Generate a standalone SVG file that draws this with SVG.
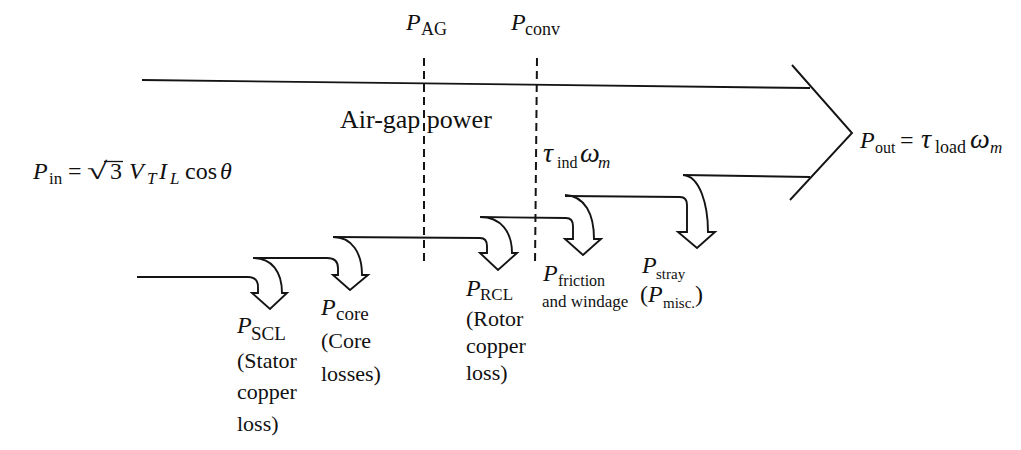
<svg xmlns="http://www.w3.org/2000/svg" width="1021" height="450" viewBox="0 0 1021 450" font-family="Liberation Serif, Times New Roman, DejaVu Serif, serif">
<style>
  .ln{fill:none;stroke:#141414;stroke-width:1.9;stroke-linejoin:miter;stroke-linecap:butt}
  .ds{fill:none;stroke:#141414;stroke-width:2;stroke-dasharray:8 5}
  text{font-family:"Liberation Serif","Times New Roman","DejaVu Serif",serif;fill:#111}
  .m{font-size:24px}
  .i{font-style:italic}
  .lb{font-size:22px}
  .g{font-size:28px;font-style:italic}
</style>
<rect width="1021" height="450" fill="#ffffff"/>
<g id="connectors">
  <g id="main-band">
    <path class="ln" d="M142,80 L810,88"/>
    <path class="ln" d="M792,65 L852,133 L790,200"/>
    <path class="ln" d="M683,175 L810,177"/>
  </g>
  <g id="flow-scl">
    <path class="ln" d="M137,277 L248,277 Q258,277 258,287 L258,293 L252,293 L270,309 L287,293 L282,293 C282,272 272,258 253,258"/>
  </g>
  <g id="flow-core">
    <path class="ln" d="M253,258 L327,258 Q338,258 338,268 L338,275 L333,275 L350,290 L368,275 L362,275 C362,253 352,237 333,237"/>
  </g>
  <g id="flow-rcl">
    <path class="ln" d="M333,237 L480,238 Q487,238 487,246 L487,253 L480,253 L498,270 L517,253 L512,253 C512,232 501,217 480,217"/>
  </g>
  <g id="flow-friction">
    <path class="ln" d="M480,217 L566,218 Q573,218 573,226 L573,239 L565,239 L583,255 L601,239 L594,239 C594,214 585,196 565,195"/>
  </g>
  <g id="flow-stray">
    <path class="ln" d="M565,196 L680,197 Q687,197 687,205 L687,232 L678,232 L697,248 L715,232 L708,232 C708,205 700,176 683,175"/>
  </g>
  <path class="ds" d="M424,58 L424,265"/>
  <path class="ds" d="M537,58 L535,265"/>
</g>
<g id="node-pag">
  <text class="m i" x="406" y="30">P</text>
  <text x="421" y="35" font-size="18">AG</text>
</g>
<g id="node-pconv">
  <text class="m i" x="511" y="30">P</text>
  <text x="525" y="35" font-size="18">conv</text>
</g>
<g id="node-airgap">
  <text x="340" y="128" font-size="26">Air-gap power</text>
</g>
<g id="node-pin">
  <text class="m i" x="33" y="179">P</text>
  <text x="49" y="184" font-size="17">in</text>
  <text class="m" x="68" y="179">=</text>
  <text font-size="24" transform="translate(87,179) scale(1.55,1)">√</text>
  <line x1="104" y1="161.5" x2="123" y2="161.5" stroke="#111" stroke-width="1.3"/>
  <text class="m" x="110" y="179">3</text>
  <text class="m i" x="129" y="179">V</text>
  <text class="i" x="147" y="184" font-size="17">T</text>
  <text class="m i" x="159" y="179">I</text>
  <text class="i" x="170" y="184" font-size="17">L</text>
  <text class="m" x="185" y="179">cos</text>
  <text class="m i" x="220" y="179">θ</text>
</g>
<g id="node-tauind">
  <text class="g" x="543" y="162">τ</text>
  <text x="557" y="168" font-size="16">ind</text>
  <text class="g" x="580" y="162">ω</text>
  <text class="i" x="598" y="168" font-size="17">m</text>
</g>
<g id="node-pout">
  <text class="m i" x="860" y="148">P</text>
  <text x="875" y="153" font-size="16">out</text>
  <text class="m" x="900" y="148">=</text>
  <text class="g" x="921" y="148">τ</text>
  <text x="935" y="153" font-size="18">load</text>
  <text class="g" x="970" y="148">ω</text>
  <text class="i" x="990" y="153" font-size="17">m</text>
</g>
<g id="node-scl">
  <text class="m i" x="237" y="333">P</text>
  <text x="251" y="340" font-size="19">SCL</text>
  <text class="lb" x="237" y="368">(Stator</text>
  <text class="lb" x="237" y="399">copper</text>
  <text class="lb" x="237" y="431">loss)</text>
</g>
<g id="node-core">
  <text class="m i" x="321" y="315">P</text>
  <text x="336" y="320" font-size="19">core</text>
  <text class="lb" x="321" y="348">(Core</text>
  <text class="lb" x="321" y="381">losses)</text>
</g>
<g id="node-rcl">
  <text class="m i" x="466" y="296">P</text>
  <text x="480" y="300" font-size="17">RCL</text>
  <text class="lb" x="466" y="326">(Rotor</text>
  <text class="lb" x="466" y="353">copper</text>
  <text class="lb" x="466" y="380">loss)</text>
</g>
<g id="node-friction">
  <text class="m i" x="543" y="281">P</text>
  <text x="558" y="286" font-size="16">friction</text>
  <text x="542" y="307" font-size="17">and windage</text>
</g>
<g id="node-stray">
  <text class="m i" x="642" y="273">P</text>
  <text x="656" y="279" font-size="15">stray</text>
  <text class="m" x="640" y="302">(</text>
  <text class="m i" x="648" y="302">P</text>
  <text x="663" y="308" font-size="15">misc.</text>
  <text class="m" x="695" y="302">)</text>
</g>
</svg>
